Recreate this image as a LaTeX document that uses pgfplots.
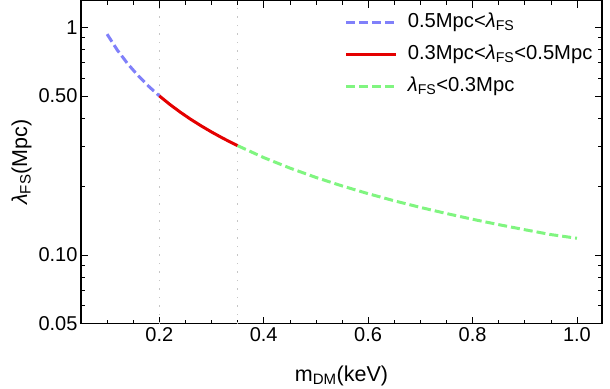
\documentclass[border=0pt]{standalone}
\usepackage{fontspec}
\setmainfont{Liberation Sans}
\usepackage{pgfplots}
\pgfplotsset{compat=1.18}
\definecolor{cblue}{RGB}{128,128,250}
\definecolor{cred}{RGB}{228,0,0}
\definecolor{cgreen}{RGB}{128,245,128}
\begin{document}
\begin{tikzpicture}
\begin{semilogyaxis}[
 name=ax,
 scale only axis, width=521pt, height=323pt,
 xmin=0.05, xmax=1.048, ymin=0.05, ymax=1.31,
 xtick={0.2,0.4,0.6,0.8,1.0}, xticklabels={0.2,0.4,0.6,0.8,1.0},
 minor xtick={0.1,0.15,0.25,0.3,0.35,0.45,0.5,0.55,0.65,0.7,0.75,0.85,0.9,0.95},
 ytick={0.05,0.1,0.5,1}, yticklabels={0.05,0.10,0.50,1},
 minor ytick={0.06,0.07,0.08,0.09,0.2,0.3,0.4,0.6,0.7,0.8,0.9},
 /pgf/number format/assume math mode=true,
 tick style={black, line width=0.6pt},
 major tick length=7pt, minor tick length=4pt,
 axis line style={line width=1.1pt},
 tick label style={font=\fontsize{20}{24}\selectfont},
 label style={font=\fontsize{21.5}{25}\selectfont},
 xlabel={m\textsubscript{DM}(keV)},
 xlabel style={at={(rel axis cs:0.5,0)}, anchor=base, inner sep=0pt, yshift=-58pt},
 ylabel={{\itshape λ}\textsubscript{FS}(Mpc)},
 legend style={draw=none, fill=none, at={(0.506,0.96)}, anchor=north west,
   font=\fontsize{20.2}{24}\selectfont, row sep=14pt, inner sep=0pt,
   nodes={text height=14pt, text depth=4pt, inner ysep=0pt},
   /tikz/every odd column/.append style={column sep=8pt}},
 legend cell align=left,
 legend image code/.code={\draw[#1] (0pt,0pt) -- (50pt,0pt);},
]
\addplot[forget plot, gray!45, line width=1pt, dash pattern=on 1.3pt off 7.2pt] coordinates {(0.2,0.05) (0.2,1.31)};
\addplot[forget plot, gray!45, line width=1pt, dash pattern=on 1.3pt off 7.2pt] coordinates {(0.35,0.05) (0.35,1.31)};
\addplot[cblue, line width=3pt, dash pattern=on 9pt off 4pt] coordinates {
(0.10,0.9330) (0.12,0.7919) (0.14,0.6893) (0.16,0.6112) (0.18,0.5497) (0.20,0.5000)};
\addlegendentry{0.5Mpc<{\itshape λ}\textsubscript{FS}}
\addplot[cred, line width=3pt] coordinates {
(0.20,0.5000) (0.22,0.4589) (0.24,0.4243) (0.26,0.3948) (0.28,0.3694) (0.30,0.3471) (0.32,0.3275) (0.34,0.3101) (0.35,0.3022)};
\addlegendentry{0.3Mpc<{\itshape λ}\textsubscript{FS}<0.5Mpc}
\addplot[cgreen, line width=3pt, dash pattern=on 9pt off 4pt] coordinates {
(0.35,0.3022) (0.40,0.2679) (0.45,0.2410) (0.50,0.2192) (0.55,0.2012) (0.60,0.1860) (0.65,0.1731) (0.70,0.1619) (0.75,0.1522) (0.80,0.1436) (0.85,0.1360) (0.90,0.1292) (0.95,0.1230) (1.00,0.1185)};
\addlegendentry{{\itshape λ}\textsubscript{FS}<0.3Mpc}
\end{semilogyaxis}
\pgfresetboundingbox
\path ([shift={(-81pt,-65pt)}]ax.south west) rectangle ([shift={(8pt,0.6pt)}]ax.north east);
\end{tikzpicture}
\end{document}
